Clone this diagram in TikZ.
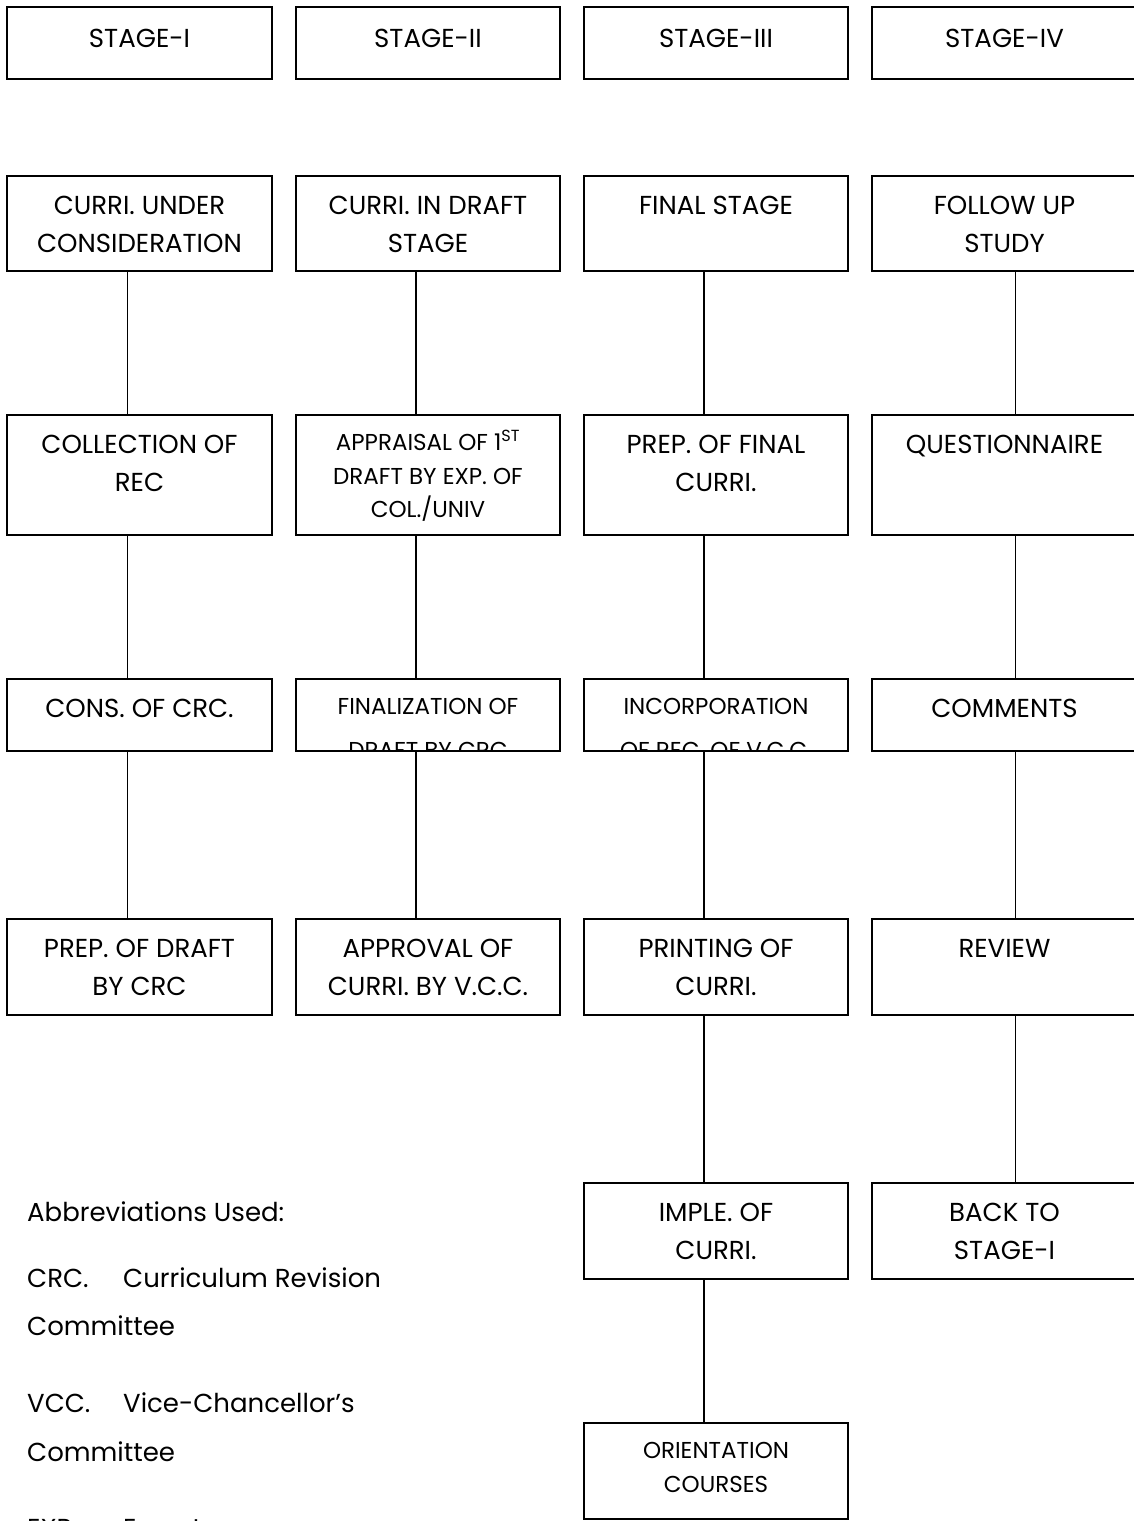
\documentclass[tikz,border=0pt]{standalone}
\usepackage{fontspec}
\setmainfont{Poppins}
\usetikzlibrary{calc}

\begin{document}
\begin{tikzpicture}
[%
    x=1pt, y=1pt,
    block/.style={
      rectangle,
      draw=black,
      line width=1.6pt,
      minimum width=264.5pt,
      inner sep=0pt
    },
    boxtext/.style={
      anchor=north,
      align=center,
      inner sep=0pt,
      font=\fontsize{26}{37.5}\selectfont
    },
    boxtextsmall/.style={
      boxtext,
      font=\fontsize{23}{33.5}\selectfont
    },
    boxtextcut/.style={
      boxtext,
      font=\fontsize{23}{44}\selectfont
    },
    abbr/.style={
      anchor=base west,
      inner sep=0pt,
      font=\fontsize{26}{49}\selectfont
    },
    link/.style={
      line width=1.6pt
    }
  ]
  \clip (0,0) rectangle (1134,-1521);

  %Stages
    \draw (139.5,-43) node[block, minimum height=72] (SI) {};
    \draw (428,-43) node[block, minimum height=72] (SII) {};
    \draw (716,-43) node[block, minimum height=72] (SIII) {};
    \draw (1004.5,-43) node[block, minimum height=72] (SIV) {};
    \node[boxtext] (SI_t) at ([yshift=-23]SI.north) {STAGE-I};
    \node[boxtext] (SII_t) at ([yshift=-23]SII.north) {STAGE-II};
    \node[boxtext] (SIII_t) at ([yshift=-23]SIII.north) {STAGE-III};
    \node[boxtext] (SIV_t) at ([yshift=-23]SIV.north) {STAGE-IV};

  %Stage I
    \draw (139.5,-223.5) node[block, minimum height=95] (CUC) {};
    \draw (139.5,-475) node[block, minimum height=120] (COR) {};
    \draw (139.5,-715) node[block, minimum height=72] (CCRC) {};
    \draw (139.5,-967) node[block, minimum height=96] (PDC) {};
    \node[boxtext] (CUC_t) at ([yshift=-21]CUC.north) {CURRI. UNDER\\CONSIDERATION};
    \node[boxtext] (COR_t) at ([yshift=-21]COR.north) {COLLECTION OF\\REC};
    \node[boxtext] (CCRC_t) at ([yshift=-21]CCRC.north) {CONS. OF CRC.};
    \node[boxtext] (PDC_t) at ([yshift=-21]PDC.north) {PREP. OF DRAFT\\BY CRC};

  %Stage II
    \draw (428,-223.5) node[block, minimum height=95] (CDS) {};
    \draw (428,-475) node[block, minimum height=120] (AFD) {};
    \draw (428,-715) node[block, minimum height=72] (FDC) {};
    \draw (428,-967) node[block, minimum height=96] (ACV) {};
    \node[boxtext] (CDS_t) at ([yshift=-21]CDS.north) {CURRI. IN DRAFT\\STAGE};
    \node[boxtextsmall] (AFD_t) at ([yshift=-16]AFD.north) {APPRAISAL OF 1\textsuperscript{ST}\\DRAFT BY EXP. OF\\COL./UNIV};
    \begin{scope}
      \clip (FDC.south west) rectangle (FDC.north east);
      \node[boxtextcut] (FDC_t) at ([yshift=-20]FDC.north) {FINALIZATION OF\\DRAFT BY CRC};
    \end{scope}
    \node[boxtext] (ACV_t) at ([yshift=-21]ACV.north) {APPROVAL OF\\CURRI. BY V.C.C.};

  %Stage III
    \draw (716,-223.5) node[block, minimum height=95] (FS) {};
    \draw (716,-475) node[block, minimum height=120] (PFC) {};
    \draw (716,-715) node[block, minimum height=72] (IRV) {};
    \draw (716,-967) node[block, minimum height=96] (PC) {};
    \draw (716,-1231) node[block, minimum height=96] (IC) {};
    \draw (716,-1471) node[block, minimum height=96] (OC) {};
    \node[boxtext] (FS_t) at ([yshift=-21]FS.north) {FINAL STAGE};
    \node[boxtext] (PFC_t) at ([yshift=-21]PFC.north) {PREP. OF FINAL\\CURRI.};
    \begin{scope}
      \clip (IRV.south west) rectangle (IRV.north east);
      \node[boxtextcut] (IRV_t) at ([yshift=-20]IRV.north) {INCORPORATION\\OF REC. OF V.C.C.};
    \end{scope}
    \node[boxtext] (PC_t) at ([yshift=-21]PC.north) {PRINTING OF\\CURRI.};
    \node[boxtext] (IC_t) at ([yshift=-21]IC.north) {IMPLE. OF\\CURRI.};
    \node[boxtextsmall] (OC_t) at ([yshift=-20]OC.north) {ORIENTATION\\COURSES};

  %Stage IV
    \draw (1004.5,-223.5) node[block, minimum height=95] (FUS) {};
    \draw (1004.5,-475) node[block, minimum height=120] (QN) {};
    \draw (1004.5,-715) node[block, minimum height=72] (CM) {};
    \draw (1004.5,-967) node[block, minimum height=96] (RV) {};
    \draw (1004.5,-1231) node[block, minimum height=96] (BTS) {};
    \node[boxtext] (FUS_t) at ([yshift=-21]FUS.north) {FOLLOW UP\\STUDY};
    \node[boxtext] (QN_t) at ([yshift=-21]QN.north) {QUESTIONNAIRE};
    \node[boxtext] (CM_t) at ([yshift=-21]CM.north) {COMMENTS};
    \node[boxtext] (RV_t) at ([yshift=-21]RV.north) {REVIEW};
    \node[boxtext] (BTS_t) at ([yshift=-21]BTS.north) {BACK TO\\STAGE-I};

  %links
    \draw[link] ([xshift=-12]CUC.south) -- ([xshift=-12]COR.north);
    \draw[link] ([xshift=-12]COR.south) -- ([xshift=-12]CCRC.north);
    \draw[link] ([xshift=-12]CCRC.south) -- ([xshift=-12]PDC.north);
    \draw[link] ([xshift=-12]CDS.south) -- ([xshift=-12]AFD.north);
    \draw[link] ([xshift=-12]AFD.south) -- ([xshift=-12]FDC.north);
    \draw[link] ([xshift=-12]FDC.south) -- ([xshift=-12]ACV.north);
    \draw[link] ([xshift=-12]FS.south) -- ([xshift=-12]PFC.north);
    \draw[link] ([xshift=-12]PFC.south) -- ([xshift=-12]IRV.north);
    \draw[link] ([xshift=-12]IRV.south) -- ([xshift=-12]PC.north);
    \draw[link] ([xshift=-12]PC.south) -- ([xshift=-12]IC.north);
    \draw[link] ([xshift=-12]IC.south) -- ([xshift=-12]OC.north);
    \draw[link] ([xshift=11]FUS.south) -- ([xshift=11]QN.north);
    \draw[link] ([xshift=11]QN.south) -- ([xshift=11]CM.north);
    \draw[link] ([xshift=11]CM.south) -- ([xshift=11]RV.north);
    \draw[link] ([xshift=11]RV.south) -- ([xshift=11]BTS.north);

  %Abbreviations
    \node[abbr] (AU) at (27,-1221) {Abbreviations Used:};
    \node[abbr] (CRC) at (27,-1287) {CRC.};
    \node[abbr] (CRC_d) at (123,-1287) {Curriculum Revision};
    \node[abbr] (CRC_c) at (27,-1335) {Committee};
    \node[abbr] (VCC) at (27,-1412) {VCC.};
    \node[abbr] (VCC_d) at (123,-1412) {Vice-Chancellor’s};
    \node[abbr] (VCC_c) at (27,-1461) {Committee};
    \node[abbr] (EXP) at (27,-1537) {EXP.};
    \node[abbr] (EXP_d) at (123,-1537) {Experts};
\end{tikzpicture}
\end{document}
